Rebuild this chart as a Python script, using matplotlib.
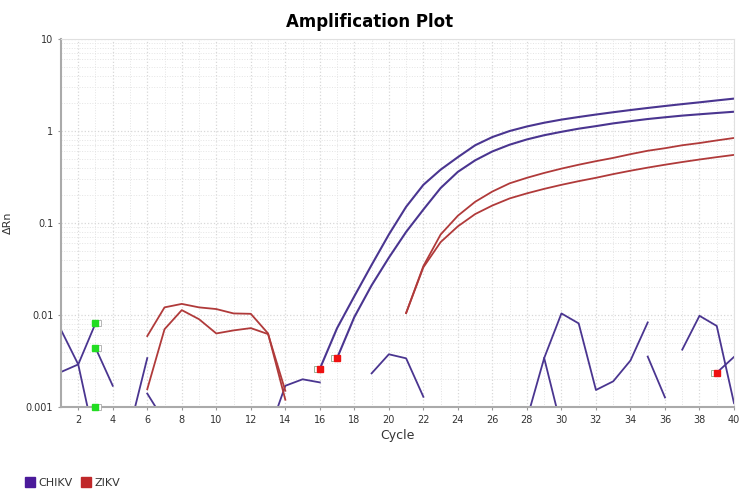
import matplotlib.pyplot as plt
import matplotlib.transforms as mtransforms
from matplotlib.patches import Patch
from matplotlib.ticker import LogLocator, FixedLocator, NullFormatter

# amplification curves (cycle, delta Rn)
chikv_a_cyc = list(range(16, 41))
chikv_a_val = [0.0026, 0.0072, 0.016, 0.035, 0.075, 0.15, 0.26, 0.38, 0.52, 0.70,
               0.86, 1.0, 1.12, 1.23, 1.33, 1.42, 1.51, 1.60, 1.69, 1.78,
               1.87, 1.96, 2.05, 2.15, 2.25]
chikv_b_cyc = list(range(17, 41))
chikv_b_val = [0.0034, 0.0095, 0.021, 0.042, 0.080, 0.14, 0.24, 0.36, 0.48, 0.60,
               0.71, 0.81, 0.90, 0.98, 1.06, 1.13, 1.21, 1.28, 1.35, 1.41,
               1.47, 1.52, 1.57, 1.62]
zikv_a_cyc = list(range(21, 41))
zikv_a_val = [0.0105, 0.034, 0.075, 0.12, 0.17, 0.22, 0.27, 0.31, 0.35, 0.39,
              0.43, 0.47, 0.51, 0.56, 0.61, 0.65, 0.70, 0.74, 0.79, 0.84]
zikv_b_cyc = list(range(21, 41))
zikv_b_val = [0.0105, 0.033, 0.062, 0.092, 0.125, 0.155, 0.185, 0.21, 0.235, 0.26,
              0.285, 0.31, 0.34, 0.37, 0.40, 0.43, 0.46, 0.49, 0.52, 0.55]

# early ZIKV noise
zikv_noise_a_cyc = [6, 7, 8, 9, 10, 11, 12, 13, 14]
zikv_noise_a_val = [0.0059, 0.0121, 0.0132, 0.0121, 0.0116, 0.0104, 0.0103, 0.0063, 0.0012]
zikv_noise_b_cyc = [6, 7, 8, 9, 10, 11, 12, 13, 14]
zikv_noise_b_val = [0.00156, 0.0070, 0.0113, 0.0090, 0.0063, 0.0068, 0.0072, 0.0062, 0.0015]

# CHIKV noise segments (baseline wells)
chikv_noise = [
    ([1, 2, 3], [0.0069, 0.0029, 0.0004]),
    ([1, 2, 3], [0.0024, 0.0029, 0.0081]),
    ([3, 4], [0.0044, 0.0017]),
    ([5, 6], [0.0006, 0.0034]),
    ([6, 7], [0.0014, 0.0007]),
    ([13, 14, 15, 16], [0.0005, 0.0017, 0.0020, 0.00185]),
    ([19, 20, 21, 22], [0.00232, 0.00374, 0.00338, 0.00129]),
    ([28, 29, 30, 31, 32, 33, 34, 35], [0.00074, 0.0034, 0.0104, 0.0081, 0.00153, 0.0019, 0.0032, 0.0083]),
    ([29, 30], [0.0034, 0.0006]),
    ([35, 36], [0.00353, 0.00127]),
    ([37, 38, 39, 40], [0.0042, 0.0098, 0.0076, 0.0011]),
    ([39, 40], [0.00236, 0.0035]),
]

# baseline markers
green_cyc = [3, 3, 3]
green_val = [0.0081, 0.0044, 0.001]
red_cyc = [16, 17, 39]
red_val = [0.0026, 0.0034, 0.00236]

chikv_color = '#4a3590'
zikv_color = '#b03a3a'

fig = plt.figure(figsize=(7.4, 4.92), dpi=100)
ax = fig.add_axes([0.0824, 0.1728, 0.9095, 0.7479])

for cyc, val in chikv_noise:
    ax.plot(cyc, val, color=chikv_color, lw=1.3)
ax.plot(zikv_noise_a_cyc, zikv_noise_a_val, color=zikv_color, lw=1.3)
ax.plot(zikv_noise_b_cyc, zikv_noise_b_val, color=zikv_color, lw=1.3)
ax.plot(chikv_a_cyc, chikv_a_val, color=chikv_color, lw=1.5)
ax.plot(chikv_b_cyc, chikv_b_val, color=chikv_color, lw=1.5)
ax.plot(zikv_a_cyc, zikv_a_val, color=zikv_color, lw=1.3)
ax.plot(zikv_b_cyc, zikv_b_val, color=zikv_color, lw=1.3)

# two-tone square markers
right = ax.transData + mtransforms.ScaledTranslation(3 / 100, 0, fig.dpi_scale_trans)
left = ax.transData + mtransforms.ScaledTranslation(-3 / 100, 0, fig.dpi_scale_trans)
ax.plot(green_cyc, green_val, 's', ms=5, color='#22dd22', ls='none', clip_on=False, zorder=5)
ax.plot(green_cyc, green_val, 's', ms=5, mfc='white', mec='#aaaaaa', mew=0.6, ls='none',
        transform=right, clip_on=False, zorder=4)
ax.plot(red_cyc, red_val, 's', ms=5, mfc='white', mec='#88aa88', mew=0.6, ls='none',
        transform=left, zorder=4)
ax.plot(red_cyc, red_val, 's', ms=5, color='#ee1111', ls='none', zorder=5)

ax.set_yscale('log')
ax.set_ylim(0.001, 10)
ax.set_xlim(1, 40)
ax.set_xticks(range(2, 41, 2))
ax.xaxis.set_minor_locator(FixedLocator(range(1, 41, 1)))
ax.set_yticks([0.001, 0.01, 0.1, 1, 10])
ax.set_yticklabels(['0.001', '0.01', '0.1', '1', '10'])
ax.yaxis.set_minor_locator(LogLocator(base=10, subs=range(2, 10)))
ax.yaxis.set_minor_formatter(NullFormatter())

ax.grid(True, which='major', color='#d8d8d8', ls=':', lw=0.9)
ax.grid(True, which='minor', color='#e4e4e4', ls=':', lw=0.7)
ax.set_axisbelow(True)
ax.tick_params(which='both', length=2, color='#999999', labelsize=7, labelcolor='#333333')
ax.tick_params(which='minor', length=0)
for side in ['top', 'right']:
    ax.spines[side].set_color('#e0e0e0')
for side in ['left', 'bottom']:
    ax.spines[side].set_color('#aaaaaa')
    ax.spines[side].set_linewidth(1.5)

fig.suptitle('Amplification Plot', x=0.5, y=0.955, va='center', fontsize=12, fontweight='bold')
ax.set_ylabel('ΔRn', fontsize=8, color='#333333', labelpad=9)
ax.set_xlabel('Cycle', fontsize=9, color='#333333', labelpad=3)

handles = [Patch(color='#4b1a9a', label='CHIKV'), Patch(color='#c0282a', label='ZIKV')]
fig.legend(handles=handles, loc='lower left', bbox_to_anchor=(0.02, -0.012), ncol=2,
           frameon=False, fontsize=8, handlelength=0.9, handleheight=0.9,
           handletextpad=0.3, columnspacing=0.8, labelcolor='#333333')

fig.savefig('out.png', dpi=100)
